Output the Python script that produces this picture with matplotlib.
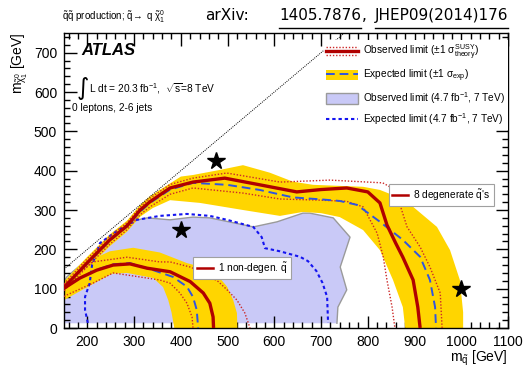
import numpy as np
import matplotlib
matplotlib.use('Agg')
import matplotlib.pyplot as plt
from matplotlib.lines import Line2D
from matplotlib.patches import Patch
from matplotlib.legend_handler import HandlerBase
from matplotlib.legend import Legend
from matplotlib.ticker import MultipleLocator

plt.rcParams['font.family'] = ['Liberation Sans', 'DejaVu Sans']
plt.rcParams['mathtext.fontset'] = 'custom'
plt.rcParams['mathtext.rm'] = 'Liberation Sans'
plt.rcParams['mathtext.it'] = 'Liberation Sans'
plt.rcParams['mathtext.bf'] = 'Liberation Sans:bold'

# ---------------- data (GeV) ----------------
# 8 degenerate squarks: observed, expected, +-1 sigma theory, +-1 sigma exp band
obs8_x = [150, 199, 248, 285, 313, 334, 377, 426, 494, 569, 648, 700, 755, 800, 826, 841, 860, 875, 897, 907, 912]
obs8_y = [103, 165, 224, 260, 300, 321, 356, 371, 381, 364, 346, 352, 356, 346, 318, 262, 215, 180, 122, 53, 0]
exp8_x = [150, 199, 248, 285, 313, 334, 377, 426, 499, 569, 640, 700, 740, 777, 826, 875, 912, 933, 944, 946]
exp8_y = [103, 163, 222, 258, 296, 318, 352, 369, 364, 351, 332, 327, 323, 313, 270, 224, 181, 122, 53, 0]
th8_up_x = [150, 199, 248, 285, 313, 334, 377, 426, 498, 612, 719, 832, 847, 869, 884, 912, 933, 955, 959]
th8_up_y = [112, 175, 233, 268, 308, 330, 365, 381, 394, 371, 376, 369, 359, 313, 257, 206, 155, 89, 0]
th8_dn_x = [150, 199, 248, 285, 313, 334, 377, 426, 533, 612, 700, 755, 790, 820, 833, 841, 852, 858]
th8_dn_y = [95, 155, 213, 250, 288, 308, 340, 356, 343, 328, 325, 322, 308, 241, 181, 122, 53, 0]
band8_up_x = [150, 199, 248, 285, 313, 334, 355, 400, 426, 484, 533, 590, 640, 683, 790, 826, 860, 897, 948, 976, 997, 1004, 1004]
band8_up_y = [118, 180, 238, 273, 313, 335, 351, 385, 389, 402, 414, 395, 372, 364, 359, 351, 335, 308, 257, 198, 122, 40, 0]
band8_lo_x = [150, 199, 248, 285, 313, 340, 377, 441, 533, 612, 661, 700, 740, 790, 826, 854, 875, 880]
band8_lo_y = [88, 150, 208, 245, 283, 305, 325, 318, 300, 285, 295, 292, 282, 249, 198, 122, 53, 0]

# 1 non-degenerate squark
obs1_x = [150, 184, 220, 255, 291, 328, 377, 420, 448, 462, 469, 470]
obs1_y = [101, 127, 147, 160, 163, 152, 143, 118, 89, 63, 28, 0]
exp1_x = [150, 184, 220, 255, 291, 341, 383, 413, 426, 434, 437]
exp1_y = [101, 127, 148, 162, 165, 147, 130, 105, 79, 46, 0]
th1_up_x = [150, 212, 285, 355, 377, 420, 450, 480, 499, 520, 537, 548]
th1_up_y = [110, 168, 180, 168, 168, 155, 140, 118, 97, 71, 38, 0]
th1_dn_x = [150, 156, 212, 255, 300, 355, 377, 398, 413, 424, 426]
th1_dn_y = [80, 84, 114, 140, 132, 122, 114, 89, 63, 28, 0]
band1_up_x = [150, 184, 248, 298, 355, 413, 469, 499, 512, 520, 521]
band1_up_y = [118, 160, 195, 204, 192, 165, 147, 105, 71, 38, 0]
band1_lo_x = [150, 212, 253, 285, 341, 362, 373, 380, 386]
band1_lo_y = [71, 112, 138, 140, 127, 104, 71, 40, 0]

# 7 TeV, 4.7 fb-1 results
obs7_x = [150, 156, 200, 250, 295, 328, 377, 426, 462, 555, 606, 661, 676, 726, 762, 751, 741, 755, 736, 734]
obs7_y = [118, 130, 175, 228, 272, 280, 275, 282, 280, 257, 270, 292, 292, 280, 231, 191, 155, 97, 53, 12]
obs7_floor = 12
exp7_x = [201, 195, 195, 205, 210, 227, 266, 306, 355, 413, 462, 499, 555, 573, 580, 612, 655, 672, 690, 703, 713, 715]
exp7_y = [13, 46, 79, 114, 160, 216, 249, 275, 285, 290, 285, 275, 257, 231, 203, 195, 181, 170, 145, 115, 79, 13]

# kinematic limit m_chi = m_squark
diag_x = [150, 750]
diag_y = [150, 750]

# benchmark stars
star_x = [475, 400, 1000]
star_y = [425, 250, 100]

# ---------------- styles ----------------
YELLOW = '#ffd500'
PURPLE = '#c9c9f7'
GRAY = '#9a9a9a'
RED = '#b00000'
RED_DOT = '#cc2828'
BLUE_DASH = '#2f55e0'
BLUE_DOT = '#1414f0'

W, H = 526, 367
fig = plt.figure(figsize=(W / 100, H / 100), dpi=100)
ax = fig.add_axes([64 / W, 1 - 328 / H, 444 / W, 295 / H])
ax.set_xlim(150, 1100)
ax.set_ylim(0, 750)

# 7 TeV observed region
ax.fill(np.r_[obs7_x, obs7_x[-1], obs7_x[0]], np.r_[obs7_y, obs7_floor, obs7_floor],
        fc=PURPLE, ec='none', zorder=1)
ax.plot(obs7_x, obs7_y, color=GRAY, lw=1.0, zorder=1.5)

# yellow bands
ax.fill(np.r_[band8_up_x, band8_lo_x[::-1]], np.r_[band8_up_y, band8_lo_y[::-1]],
        fc=YELLOW, ec='none', zorder=2)
ax.fill(np.r_[band1_up_x, band1_lo_x[::-1]], np.r_[band1_up_y, band1_lo_y[::-1]],
        fc=YELLOW, ec='none', zorder=2)

ax.plot(diag_x, diag_y, color='k', ls=(0, (1, 1.2)), lw=0.7, zorder=3)
ax.plot(exp7_x, exp7_y, color=BLUE_DOT, ls=(0, (1.6, 1.4)), lw=1.5, zorder=4)

for xs, ys in [(th8_up_x, th8_up_y), (th8_dn_x, th8_dn_y), (th1_up_x, th1_up_y), (th1_dn_x, th1_dn_y)]:
    ax.plot(xs, ys, color=RED_DOT, ls=(0, (1, 1.3)), lw=1.0, zorder=5)
for xs, ys in [(exp8_x, exp8_y), (exp1_x, exp1_y)]:
    ax.plot(xs, ys, color=BLUE_DASH, ls=(0, (4.5, 2.5)), lw=1.4, zorder=6)
for xs, ys in [(obs8_x, obs8_y), (obs1_x, obs1_y)]:
    ax.plot(xs, ys, color=RED, lw=2.4, zorder=7, solid_capstyle='butt')

ax.plot(star_x, star_y, ls='none', marker='*', ms=13, color='k', zorder=8)

# ticks
ax.xaxis.set_major_locator(MultipleLocator(100))
ax.xaxis.set_minor_locator(MultipleLocator(20))
ax.yaxis.set_major_locator(MultipleLocator(100))
ax.yaxis.set_minor_locator(MultipleLocator(20))
ax.tick_params(which='both', direction='in', top=True, right=True, width=1.0, labelsize=10, pad=5)
ax.tick_params(which='major', length=9)
ax.tick_params(which='minor', length=4.5)
for s in ax.spines.values():
    s.set_linewidth(1.0)

ax.set_xlabel(r'$m_{\tilde{q}}$ [GeV]', loc='right', fontsize=10, labelpad=0)
ax.set_ylabel(r'$m_{\tilde{\chi}^{0}_{1}}$ [GeV]', loc='top', fontsize=10, labelpad=3)

# main legend
class ObsKey:
    pass

class ObsHandler(HandlerBase):
    def create_artists(self, legend, orig_handle, xdescent, ydescent, width, height, fontsize, trans):
        x0, x1 = -xdescent, -xdescent + width
        y = (height - ydescent) / 2
        arts = []
        for dy, ls, lw, c in [(0.36 * height, (0, (1, 1.3)), 1.0, RED_DOT),
                              (-0.36 * height, (0, (1, 1.3)), 1.0, RED_DOT),
                              (0, '-', 2.4, RED)]:
            l = Line2D([x0, x1], [y + dy, y + dy], color=c, ls=ls, lw=lw)
            l.set_transform(trans)
            arts.append(l)
        return arts

handles = [ObsKey(),
           (Patch(fc=YELLOW, ec='none'), Line2D([], [], color=BLUE_DASH, ls=(0, (4.5, 2.5)), lw=1.4)),
           Patch(fc=PURPLE, ec=GRAY, lw=1.0),
           Line2D([], [], color=BLUE_DOT, ls=(0, (1.6, 1.4)), lw=1.5)]
labels = [r'Observed limit ($\pm$1 $\sigma^{\rm SUSY}_{\rm theory}$)',
          r'Expected limit ($\pm$1 $\sigma_{\rm exp}$)',
          r'Observed limit (4.7 fb$^{-1}$, 7 TeV)',
          r'Expected limit (4.7 fb$^{-1}$, 7 TeV)']
leg = ax.legend(handles, labels, handler_map={ObsKey: ObsHandler()},
                loc='upper left', bbox_to_anchor=(0.585, 0.975), fontsize=7.3,
                handlelength=3.1, handleheight=1.25, labelspacing=0.55, handletextpad=0.55,
                borderpad=0.25, borderaxespad=0, frameon=True, fancybox=False,
                facecolor='white', edgecolor='none', framealpha=1)
leg.set_zorder(10)

# in-plot labels for the two scenarios
for text, pos in [(r'1 non-degen. $\tilde{q}$', (531, 152)),
                  (r"8 degenerate $\tilde{q}$'s", (957, 338))]:
    lg = Legend(ax, [Line2D([], [], color=RED, lw=1.8)], [text], loc='center',
                bbox_to_anchor=pos, bbox_transform=ax.transData, fontsize=7.3,
                handlelength=1.6, handletextpad=0.5, borderpad=0.35, borderaxespad=0,
                frameon=True, fancybox=False, facecolor='white', edgecolor='#a0a0a0',
                framealpha=1)
    lg.get_frame().set_linewidth(0.8)
    lg.set_zorder(10)
    ax.add_artist(lg)

# ATLAS texts
ax.text(0.038, 0.939, 'ATLAS', transform=ax.transAxes, fontsize=12,
        fontweight='bold', fontstyle='italic', va='center', ha='left', zorder=11)
ax.text(0.028, 0.812, '\u222b', transform=ax.transAxes, fontsize=17,
        family='DejaVu Sans', va='center', ha='left', zorder=11)
ax.text(0.056, 0.812, r'L dt = 20.3 fb$^{-1}$,  $\sqrt{\rm s}$=8 TeV', transform=ax.transAxes,
        fontsize=7.3, va='center', ha='left', zorder=11)
ax.text(0.018, 0.745, '0 leptons, 2-6 jets', transform=ax.transAxes,
        fontsize=7.3, va='center', ha='left', zorder=11)

# header
fig.text(62 / W, 1 - 20 / H, r'$\tilde{q}\tilde{q}$ production; $\tilde{q}\!\rightarrow$ q $\tilde{\chi}^{0}_{1}$',
         fontsize=7, ha='left', va='baseline')
hdr = dict(fontsize=11, family='DejaVu Sans', va='baseline')
fig.text(205 / W, 1 - 20 / H, 'arXiv:', ha='left', **hdr)
t1 = fig.text(279 / W, 1 - 20 / H, '1405.7876', ha='left', **hdr)
fig.canvas.draw()
r = fig.canvas.get_renderer()
bb1 = t1.get_window_extent(r)
fig.text((bb1.x1 + 1) / W, 1 - 20 / H, ',', ha='left', **hdr)
t2 = fig.text(508 / W, 1 - 20 / H, 'JHEP09(2014)176', ha='right', **hdr)
fig.canvas.draw()
for t in (t1, t2):
    bb = t.get_window_extent(r)
    yy = (H - 28) / H
    fig.add_artist(Line2D([bb.x0 / W, bb.x1 / W], [yy, yy], transform=fig.transFigure,
                          color='k', lw=1.0))

fig.savefig('out.png', dpi=100)
